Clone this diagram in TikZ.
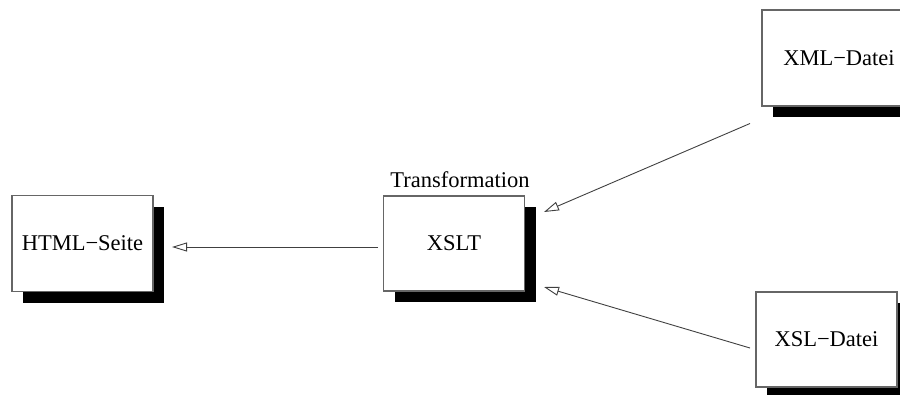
\documentclass[tikz,border=0pt]{standalone}
\usepackage{fontspec}
\setmainfont{Liberation Serif}
\usetikzlibrary{arrows.meta,shadows}
\tikzset{
  box/.style={draw=black!60, line width=1.1pt, fill=white, inner sep=0pt,
    minimum width=141pt, minimum height=96pt,
    drop shadow={shadow xshift=11pt, shadow yshift=-11pt, fill=black, opacity=1}},
  flow/.style={draw=black!75, line width=0.9pt,
    -{Triangle[length=15pt, width=9pt, fill=white, line width=0.9pt]}},
  txt/.style={font=\fontsize{22.5}{27}\selectfont}
}
\begin{document}
\begin{tikzpicture}[x=1pt, y=-1pt, txt]
\useasboundingbox (0,0) rectangle (900,394);
\clip (0,0) rectangle (900,394);
% document boxes
\node[box] (html) at (82.5,243.5) {HTML−Seite};
\node[box, minimum height=95pt] (xslt) at (454,243.5) {XSLT};
\node[box, minimum width=154pt] (xml) at (839,58) {XML−Datei};
\node[box, minimum height=95pt] (xsl) at (826.5,339.5) {XSL−Datei};
\node[anchor=base] (trans) at (460,187) {Transformation};
% free ends of the connectors
\coordinate (xsltW) at (378,247);
\coordinate (htmlE) at (172,247);
\coordinate (xmlS) at (750,123.5);
\coordinate (xsltNE) at (544,212);
\coordinate (xslW) at (750,348);
\coordinate (xsltSE) at (544,287);
\draw[flow] (xsltW) -- (htmlE);
\draw[flow] (xmlS) -- (xsltNE);
\draw[flow] (xslW) -- (xsltSE);
\end{tikzpicture}
\end{document}
